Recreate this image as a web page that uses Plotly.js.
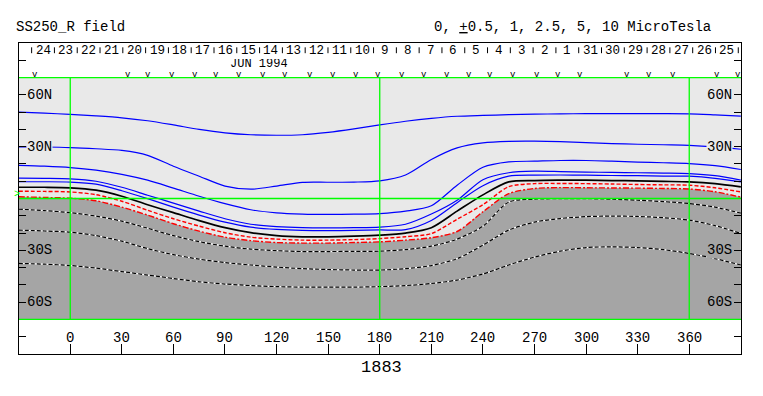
<!DOCTYPE html>
<html><head><meta charset="utf-8">
<script src="https://cdn.plot.ly/plotly-3.0.1.min.js"></script>
<style>html,body{margin:0;padding:0;background:#fff;}</style>
</head><body><div id="chart" style="width:763px;height:396px;"></div>
<script>
// Carrington longitude samples (deg)
const lon = [-30,-15,0,15,30,45,60,75,90,105,120,135,150,165,180,195,210,225,240,255,270,285,300,315,330,345,360,375,390];

// Contour latitudes (deg), one array per contour line
const posA = [50.0,49.4,48.7,47.8,46.7,45.0,42.6,40.0,38.0,36.9,36.6,36.9,38.3,40.3,42.6,44.7,46.4,47.6,48.1,48.5,48.8,49.0,49.1,49.1,49.1,49.1,49.0,48.4,47.7];
const posB = [29.9,29.8,29.5,28.8,27.8,25.0,18.7,12.9,7.2,5.4,7.2,9.3,9.4,9.5,10.2,13.6,22.6,29.3,32.2,33.1,33.2,32.9,32.3,31.8,31.4,31.1,30.8,29.9,28.5];
const posC = [19.2,18.7,17.9,16.4,14.0,10.6,6.0,1.3,-3.0,-6.5,-8.3,-9.0,-9.2,-9.1,-8.7,-7.3,-4.2,7.7,18.1,21.2,21.6,22.0,22.0,21.6,21.1,20.7,20.2,19.0,16.8];
const posD = [11.8,11.7,11.4,10.0,6.5,1.9,-2.7,-7.3,-11.7,-14.9,-16.3,-16.9,-17.0,-16.9,-16.6,-14.9,-9.0,-1.0,10.9,14.9,15.8,15.6,15.3,15.1,14.9,14.7,14.4,13.2,10.6];
const posE = [9.7,9.7,9.5,8.3,4.5,-0.1,-5.0,-9.6,-13.7,-16.6,-17.9,-18.5,-18.6,-18.5,-18.2,-18.0,-12.7,-2.4,7.4,12.9,13.5,13.6,13.5,13.3,13.2,13.0,12.9,11.7,9.6];
const zeroLine = [6.5,6.5,6.2,4.8,1.3,-3.6,-8.2,-12.8,-16.9,-19.8,-21.5,-22.2,-22.2,-21.8,-21.2,-20.0,-16.9,-7.3,2.1,9.6,10.4,10.6,10.6,10.4,10.2,9.9,9.6,8.6,6.7];
const negA = [4.2,4.1,3.8,2.2,-1.6,-6.8,-11.7,-16.0,-19.8,-22.4,-23.5,-24.1,-24.1,-23.8,-23.2,-22.1,-20.3,-12.0,-3.6,6.8,8.6,8.7,8.6,8.4,8.1,7.9,7.7,6.2,3.8];
const negB = [1.0,0.6,0.2,-1.3,-5.0,-9.6,-14.6,-18.9,-22.4,-24.4,-25.5,-25.8,-25.8,-25.5,-25.1,-24.1,-22.7,-19.1,-7.7,2.8,5.8,6.3,6.2,6.1,6.0,5.8,5.5,3.9,0.8];
const negC = [-6.2,-7.0,-8.2,-10.2,-13.1,-17.2,-21.5,-25.0,-27.6,-29.3,-30.2,-30.7,-30.7,-30.6,-30.5,-29.6,-27.6,-23.5,-16.0,-2.1,-0.4,-0.1,-0.1,-0.4,-1.0,-1.8,-2.9,-5.0,-8.5];
const negD = [-18.3,-18.8,-19.5,-21.5,-24.7,-29.0,-32.5,-35.1,-37.1,-38.5,-39.7,-40.6,-41.1,-41.4,-41.4,-40.6,-38.8,-34.8,-27.0,-18.3,-13.7,-11.6,-10.5,-10.2,-10.4,-11.1,-12.5,-15.7,-20.2];
const negE = [-37.6,-38.0,-38.8,-40.3,-42.3,-44.3,-46.3,-48.2,-49.5,-50.4,-51.0,-51.3,-51.3,-51.3,-51.0,-50.4,-49.2,-47.2,-43.7,-38.5,-33.9,-30.5,-28.4,-28.0,-28.4,-29.6,-31.8,-34.8,-38.5];

// Day-of-month labels along the top (time runs right to left)
const dayLabels = ['24','23','22','21','20','19','18','17','16','15','14','13','12','11','10','9','8','7','6','5','4','3','2','1','31','30','29','28','27','26','25'];
// Longitudes of the observation markers ("v")
const obsLon = [-20.5,33.7,45.4,59.0,72.5,84.7,98.3,112.2,124.8,139.4,153.0,166.2,179.0,192.7,205.9,218.9,232.1,244.1,257.6,271.3,283.8,296.4,323.6,336.7,350.4,375.9,388.5];
// Axis labels
const lonTicks = [0,30,60,90,120,150,180,210,240,270,300,330,360];
const latTickVals = [60,30,-30,-60];
const latTickText = ['60N','30N','30S','60S'];
const latTicksAll = [-80,-70,-60,-50,-40,-30,-20,-10,0,10,20,30,40,50,60,70,80];

const FONT = 'Liberation Mono, Courier New, monospace';
const LATMAX = 70;
const daySepStart = -22.45, dayStep = 13.257;
const GRAY = '#a5a5a5', LIGHT = '#e9e9e9';

const traces = [];
const sp = {shape:'spline', smoothing:0.8};
// negative polarity shading
traces.push({x: lon, y: lon.map(()=>-LATMAX), mode:'lines', line:{width:0,color:'rgba(0,0,0,0)'}, hoverinfo:'skip'});
traces.push({x: lon, y: negB, mode:'lines', fill:'tonexty', fillcolor:GRAY, line:Object.assign({width:0,color:GRAY},sp), hoverinfo:'skip'});
// dashed contours inside shading
[negC, negD, negE].forEach(arr=>{
  traces.push({x: lon, y: arr, mode:'lines', line:Object.assign({width:1.2,color:'#ffffff'},sp), hoverinfo:'skip'});
  traces.push({x: lon, y: arr, mode:'lines', line:Object.assign({width:1.2,color:'#000000',dash:'4px,2px'},sp), hoverinfo:'skip'});
});
// positive contours (blue)
[posA,posB,posC,posD,posE].forEach(arr=>{
  traces.push({x: lon, y: arr, mode:'lines', line:Object.assign({width:1.2,color:'#0000ff'},sp), hoverinfo:'skip'});
});
traces.push({x: lon, y: zeroLine, mode:'lines', line:Object.assign({width:1.7,color:'#000000'},sp), hoverinfo:'skip'});
traces.push({x: lon, y: negA, mode:'lines', line:Object.assign({width:1.4,color:'#ff0000',dash:'4px,2px'},sp), hoverinfo:'skip'});
traces.push({x: lon, y: negB, mode:'lines', line:Object.assign({width:1.4,color:'#ff0000',dash:'6px,2px,2px,2px'},sp), hoverinfo:'skip'});

const shapes = [];
shapes.push({type:'rect', xref:'paper', x0:0, x1:1, yref:'y', y0:-LATMAX, y1:LATMAX, fillcolor:LIGHT, line:{width:0}, layer:'below'});
const GREEN = '#00ff00';
[0,180,360].forEach(v=>shapes.push({type:'line', xref:'x', x0:v, x1:v, yref:'y', y0:-LATMAX, y1:LATMAX, line:{color:GREEN,width:1.3}, layer:'above'}));
[-LATMAX,0,LATMAX].forEach(v=>shapes.push({type:'line', xref:'paper', x0:0, x1:1, yref:'y', y0:v, y1:v, line:{color:GREEN,width:1.3}, layer:'above'}));
for (let k=0;k<=dayLabels.length;k++){
  const xv = daySepStart + k*dayStep;
  shapes.push({type:'line', xref:'x', x0:xv, x1:xv, yref:'y', y0:84.1, y1:87.5, line:{color:'#000',width:1}, layer:'above'});
}

const ann = [];
const txt = (o)=>Object.assign({showarrow:false, font:{family:FONT,size:14,color:'#000'}}, o);
const px = (p)=>(p-19)/722, py = (p)=>(354-p)/311;
ann.push(txt({text:'SS250_R field', xref:'paper', yref:'paper', x:px(14), y:py(27.5), xanchor:'left', yanchor:'middle'}));
ann.push(txt({text:'0, <u>+</u>0.5, 1, 2.5, 5, 10 MicroTesla', xref:'paper', yref:'paper', x:px(713), y:py(27.5), xanchor:'right', yanchor:'middle'}));
ann.push(txt({text:'JUN 1994', xref:'x', yref:'y', x:109.8, y:78.05, xanchor:'center', yanchor:'middle', height:10, font:{family:FONT,size:12,color:'#000'}}));
dayLabels.forEach((d,k)=>ann.push(txt({text:d, xref:'x', yref:'y', x:daySepStart+(k+0.5)*dayStep, y:85.9, xanchor:'center', yanchor:'middle', height:11, font:{family:FONT,size:12.5,color:'#000'}})));
obsLon.forEach(v=>ann.push(txt({text:'v', xref:'x', yref:'y', x:v, y:71.6, xanchor:'center', yanchor:'middle', height:6, font:{family:FONT,size:9,color:'#000'}})));
latTickVals.forEach((v,i)=>{
  const bg = v>0 ? LIGHT : GRAY;
  ann.push(txt({text:latTickText[i], xref:'paper', yref:'y', x:0, xshift:7, y:v, xanchor:'left', yanchor:'middle', bgcolor:bg, borderpad:0}));
  ann.push(txt({text:latTickText[i], xref:'paper', yref:'y', x:1, xshift:-8, y:v, xanchor:'right', yanchor:'middle', bgcolor:bg, borderpad:0}));
});
lonTicks.forEach(v=>ann.push(txt({text:String(v), xref:'x', yref:'y', x:v, y:-80.8, xanchor:'center', yanchor:'middle'})));
ann.push(txt({text:'1883', xref:'paper', yref:'paper', x:px(381.3), y:py(367.7), xanchor:'center', yanchor:'middle', font:{family:FONT,size:17,color:'#000'}}));
ann.push(txt({text:'>', xref:'paper', yref:'y', x:px(16.5), y:2.5, xanchor:'center', yanchor:'middle', font:{family:FONT,size:10,color:GREEN}}));

const layout = {
  width:763, height:396,
  margin:{l:19, r:22, t:43, b:42},
  paper_bgcolor:'#ffffff', plot_bgcolor:'#ffffff',
  showlegend:false,
  xaxis:{range:[-29.8,390.1], showgrid:false, zeroline:false, showline:true, linecolor:'#000', linewidth:1, mirror:true,
         ticks:'inside', ticklen:10, tickcolor:'#000', tickwidth:1, tickvals:lonTicks, showticklabels:false, fixedrange:true},
  yaxis:{range:[-90,90], showgrid:false, zeroline:false, showline:true, linecolor:'#000', linewidth:1, mirror:'ticks',
         ticks:'inside', ticklen:7, tickcolor:'#000', tickwidth:1, tickvals:latTicksAll, showticklabels:false, fixedrange:true},
  shapes:shapes, annotations:ann
};
Plotly.newPlot('chart', traces, layout, {staticPlot:true, displayModeBar:false});
</script></body></html>
